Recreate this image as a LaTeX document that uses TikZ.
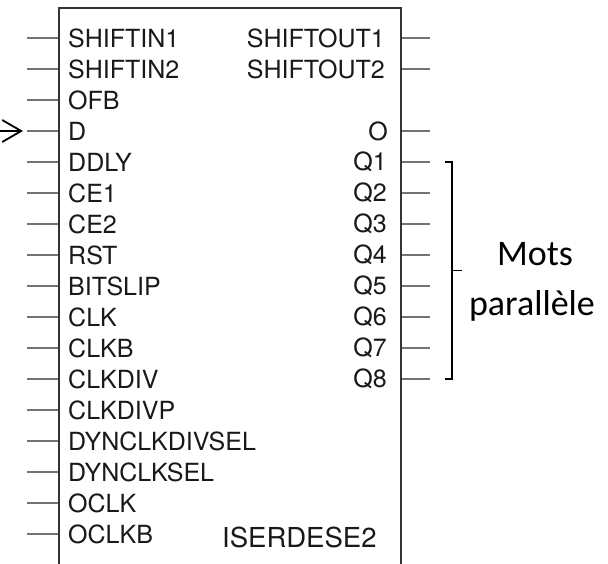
\documentclass[tikz,border=0pt]{standalone}
\usepackage{fontspec}
\setmainfont{TeX Gyre Heros}
\newfontfamily\calibri{Carlito}
\usetikzlibrary{calc,arrows.meta}

\tikzset{
    pinname/.style={inner sep=0pt, text=black!90, font=\fontsize{25}{28}\selectfont},
    pinwire/.style={draw=black!55, line width=1.3pt},
    wordlabel/.style={inner sep=0pt, anchor=base, font=\calibri\fontsize{36}{40}\selectfont},
}

\begin{document}
\begin{tikzpicture}[x=1pt, y=-1pt]
    \useasboundingbox (0,0) rectangle (608,563);
    \clip (0,0) rectangle (608,563);

    % the block, open at the bottom of the picture
    \node [draw=black!80, line width=2.4pt, inner sep=0pt, anchor=north west,
        minimum width=342pt, minimum height=620pt] (iserdes) at (58,7) {};

    % input pins
    \node [pinname, anchor=west] (shiftin1) at (68, 38) {SHIFTIN1};
    \node [pinname, anchor=west] (shiftin2) at (68, 69) {SHIFTIN2};
    \node [pinname, anchor=west] (ofb) at (68, 100) {OFB};
    \node [pinname, anchor=west] (d) at (68, 131) {D};
    \node [pinname, anchor=west] (ddly) at (68, 162) {DDLY};
    \node [pinname, anchor=west] (ce1) at (68, 193) {CE1};
    \node [pinname, anchor=west] (ce2) at (68, 224) {CE2};
    \node [pinname, anchor=west] (rst) at (68, 255) {RST};
    \node [pinname, anchor=west] (bitslip) at (68, 286) {BITSLIP};
    \node [pinname, anchor=west] (clk) at (68, 317) {CLK};
    \node [pinname, anchor=west] (clkb) at (68, 348) {CLKB};
    \node [pinname, anchor=west] (clkdiv) at (68, 379) {CLKDIV};
    \node [pinname, anchor=west] (clkdivp) at (68, 410) {CLKDIVP};
    \node [pinname, anchor=west] (dynclkdivsel) at (68, 441) {DYNCLKDIVSEL};
    \node [pinname, anchor=west] (dynclksel) at (68, 472) {DYNCLKSEL};
    \node [pinname, anchor=west] (oclk) at (68, 503) {OCLK};
    \node [pinname, anchor=west] (oclkb) at (68, 534) {OCLKB};

    \coordinate (shiftin1end) at (27, 38);
    \coordinate (shiftin2end) at (27, 69);
    \coordinate (ofbend) at (27, 100);
    \coordinate (dend) at (27, 131);
    \coordinate (ddlyend) at (27, 162);
    \coordinate (ce1end) at (27, 193);
    \coordinate (ce2end) at (27, 224);
    \coordinate (rstend) at (27, 255);
    \coordinate (bitslipend) at (27, 286);
    \coordinate (clkend) at (27, 317);
    \coordinate (clkbend) at (27, 348);
    \coordinate (clkdivend) at (27, 379);
    \coordinate (clkdivpend) at (27, 410);
    \coordinate (dynclkdivselend) at (27, 441);
    \coordinate (dynclkselend) at (27, 472);
    \coordinate (oclkend) at (27, 503);
    \coordinate (oclkbend) at (27, 534);

    \draw [pinwire] (shiftin1end) -- (shiftin1end -| iserdes.west);
    \draw [pinwire] (shiftin2end) -- (shiftin2end -| iserdes.west);
    \draw [pinwire] (ofbend) -- (ofbend -| iserdes.west);
    \draw [pinwire] (dend) -- (dend -| iserdes.west);
    \draw [pinwire] (ddlyend) -- (ddlyend -| iserdes.west);
    \draw [pinwire] (ce1end) -- (ce1end -| iserdes.west);
    \draw [pinwire] (ce2end) -- (ce2end -| iserdes.west);
    \draw [pinwire] (rstend) -- (rstend -| iserdes.west);
    \draw [pinwire] (bitslipend) -- (bitslipend -| iserdes.west);
    \draw [pinwire] (clkend) -- (clkend -| iserdes.west);
    \draw [pinwire] (clkbend) -- (clkbend -| iserdes.west);
    \draw [pinwire] (clkdivend) -- (clkdivend -| iserdes.west);
    \draw [pinwire] (clkdivpend) -- (clkdivpend -| iserdes.west);
    \draw [pinwire] (dynclkdivselend) -- (dynclkdivselend -| iserdes.west);
    \draw [pinwire] (dynclkselend) -- (dynclkselend -| iserdes.west);
    \draw [pinwire] (oclkend) -- (oclkend -| iserdes.west);
    \draw [pinwire] (oclkbend) -- (oclkbend -| iserdes.west);

    % output pins
    \node [pinname, anchor=east] (shiftout1) at (385, 38) {SHIFTOUT1};
    \node [pinname, anchor=east] (shiftout2) at (385, 69) {SHIFTOUT2};
    \node [pinname, anchor=east] (o) at (388, 131) {O};
    \node [pinname, anchor=east] (q1) at (387, 162) {Q1};
    \node [pinname, anchor=east] (q2) at (387, 193) {Q2};
    \node [pinname, anchor=east] (q3) at (387, 224) {Q3};
    \node [pinname, anchor=east] (q4) at (387, 255) {Q4};
    \node [pinname, anchor=east] (q5) at (387, 286) {Q5};
    \node [pinname, anchor=east] (q6) at (387, 317) {Q6};
    \node [pinname, anchor=east] (q7) at (387, 348) {Q7};
    \node [pinname, anchor=east] (q8) at (387, 379) {Q8};

    \coordinate (shiftout1end) at (430, 38);
    \coordinate (shiftout2end) at (430, 69);
    \coordinate (oend) at (430, 131);
    \coordinate (q1end) at (430, 162);
    \coordinate (q2end) at (430, 193);
    \coordinate (q3end) at (430, 224);
    \coordinate (q4end) at (430, 255);
    \coordinate (q5end) at (430, 286);
    \coordinate (q6end) at (430, 317);
    \coordinate (q7end) at (430, 348);
    \coordinate (q8end) at (430, 379);

    \draw [pinwire] (shiftout1end -| iserdes.east) -- (shiftout1end);
    \draw [pinwire] (shiftout2end -| iserdes.east) -- (shiftout2end);
    \draw [pinwire] (oend -| iserdes.east) -- (oend);
    \draw [pinwire] (q1end -| iserdes.east) -- (q1end);
    \draw [pinwire] (q2end -| iserdes.east) -- (q2end);
    \draw [pinwire] (q3end -| iserdes.east) -- (q3end);
    \draw [pinwire] (q4end -| iserdes.east) -- (q4end);
    \draw [pinwire] (q5end -| iserdes.east) -- (q5end);
    \draw [pinwire] (q6end -| iserdes.east) -- (q6end);
    \draw [pinwire] (q7end -| iserdes.east) -- (q7end);
    \draw [pinwire] (q8end -| iserdes.east) -- (q8end);

    \node [pinname, anchor=west, font=\fontsize{27.5}{30}\selectfont]
        (cellname) at (222, 537) {ISERDESE2};

    % serial input coming in on D
    \coordinate (serialin) at (-20, 131);
    \draw [line width=1.8pt, -{Straight Barb[length=19pt, width=22pt, line width=1.8pt]}]
        (serialin) -- ($(dend) + (-4, 0)$);

    % bracket over Q1..Q8
    \draw [line width=1.5pt] ($(q1end) + (15, 0)$) -- ($(q1end) + (22, 0)$)
        -- ($(q8end) + (22, 0)$) -- ($(q8end) + (15, 0)$);
    \draw [line width=1.5pt] ($(q1end)!0.5!(q8end) + (22, 0)$)
        -- ($(q1end)!0.5!(q8end) + (32, 0)$);

    \node [wordlabel] (mots) at (535, 265) {Mots};
    \node [wordlabel] (parallele) at (532, 315) {parallèle};
\end{tikzpicture}
\end{document}
